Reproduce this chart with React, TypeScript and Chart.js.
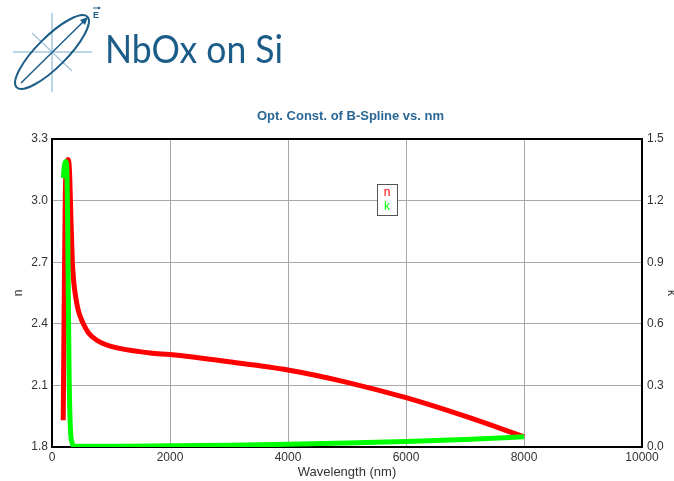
import React, { useEffect, useRef } from "react";
import { Chart, registerables } from "chart.js";

Chart.register(...registerables);

// Optical constants of the NbOx B-Spline model
const nWavelengths = [190, 205, 225, 250, 277, 300, 320, 345, 370, 402, 450, 531, 620, 759, 1000, 1663, 2000, 3000, 4000, 5000, 6000, 7000, 8000];
const nValues = [1.93, 2.45, 3.02, 3.17, 3.2, 3.12, 2.92, 2.7, 2.6, 2.53, 2.46, 2.4, 2.355, 2.32, 2.29, 2.258, 2.25, 2.215, 2.175, 2.115, 2.04, 1.95, 1.85];

const kWavelengths = [192, 210, 232, 250, 265, 277, 290, 310, 340, 370, 1000, 2000, 3000, 4000, 5000, 6000, 7000, 8000];
const kValues = [1.31, 1.37, 1.39, 1.36, 1.1, 0.73, 0.35, 0.1, 0.02, 0.005, 0.004, 0.006, 0.009, 0.013, 0.019, 0.027, 0.037, 0.05];

const xTickStep = 2000;
const nAxisRange = [1.8, 3.3];
const kAxisRange = [0, 1.5];
const axisStep = 0.3;

const chartTitle = "Opt. Const. of B-Spline vs. nm";
const legendItems = [
  { label: "n", color: "#ff0000" },
  { label: "k", color: "#00ff00" },
];

const fontFamily = "'Liberation Sans', Arial, sans-serif";
const tickFont = { family: fontFamily, size: 12 };
const axisTitleFont = { family: fontFamily, size: 13 };
const tickColor = "#333333";
const gridColor = "#a8a8a8";

// Frame around the plot, chart title and the small in-plot legend box
const decorPlugin = {
  id: "decor",
  beforeDatasetsDraw(chart: any) {
    const { ctx, chartArea } = chart;
    ctx.save();
    ctx.strokeStyle = "#000000";
    ctx.lineWidth = 2;
    ctx.strokeRect(chartArea.left, chartArea.top, chartArea.right - chartArea.left, chartArea.bottom - chartArea.top);
    ctx.restore();
  },
  afterDraw(chart: any) {
    const { ctx, chartArea } = chart;
    ctx.save();
    // title
    ctx.font = `bold 13px ${fontFamily}`;
    ctx.fillStyle = "#2a6794";
    ctx.textAlign = "center";
    ctx.textBaseline = "middle";
    ctx.fillText(chartTitle, (chartArea.left + chartArea.right) / 2 + 3.5, 116);

    // legend box
    const bx = 377;
    const by = 184;
    const bw = 20;
    const bh = 31;
    ctx.fillStyle = "#ffffff";
    ctx.fillRect(bx, by, bw, bh);
    ctx.strokeStyle = "#555555";
    ctx.lineWidth = 1;
    ctx.strokeRect(bx + 0.5, by + 0.5, bw, bh);
    ctx.font = `12px ${fontFamily}`;
    legendItems.forEach((item, i) => {
      ctx.fillStyle = item.color;
      ctx.fillText(item.label, bx + bw / 2, by + 9 + i * 14);
    });
    ctx.restore();
  },
};

function Logo() {
  const blue = "#1b5d88";
  const light = "#a9c7dc";
  return (
    <svg width={300} height={100} style={{ position: "absolute", left: 0, top: 0, zIndex: 2 }}>
      <line x1={13} y1={52} x2={92} y2={52} stroke={light} strokeWidth={1.5} />
      <line x1={52} y1={13} x2={52} y2={92} stroke={light} strokeWidth={1.5} />
      <line x1={32} y1={33} x2={72} y2={71} stroke={light} strokeWidth={1.5} />
      <ellipse cx={52} cy={52} rx={50} ry={15} transform="rotate(-45 52 52)" fill="none" stroke={blue} strokeWidth={2} />
      <line x1={21} y1={83} x2={84} y2={21} stroke={blue} strokeWidth={1.5} />
      <polygon points="88,17 80,20 85,25" fill={blue} />
      <line x1={93} y1={8} x2={100} y2={8} stroke={blue} strokeWidth={1} />
      <polygon points="101,8 98,6.5 98,9.5" fill={blue} />
      <text x={93} y={18} fontFamily={fontFamily} fontSize={9} fontWeight="bold" fill={blue}>
        E
      </text>
      <text
        x={105}
        y={63}
        fontFamily="Lato, 'Open Sans', sans-serif"
        fontSize={39}
        fill={blue}
        textLength={178}
        lengthAdjust="spacingAndGlyphs"
      >
        NbOx on Si
      </text>
    </svg>
  );
}

export default function App() {
  const canvasRef = useRef<HTMLCanvasElement | null>(null);

  useEffect(() => {
    if (!canvasRef.current) return;
    const chart = new Chart(canvasRef.current, {
      type: "line",
      data: {
        datasets: [
          {
            label: "n",
            data: nWavelengths.map((x, i) => ({ x, y: nValues[i] })),
            yAxisID: "y",
            borderColor: "#ff0000",
            backgroundColor: "#ff0000",
            borderWidth: 5,
            pointRadius: 0,
            fill: false,
            cubicInterpolationMode: "monotone",
            order: 2,
          },
          {
            label: "k",
            data: kWavelengths.map((x, i) => ({ x, y: kValues[i] })),
            yAxisID: "y1",
            borderColor: "#00ff00",
            backgroundColor: "#00ff00",
            borderWidth: 5,
            pointRadius: 0,
            fill: false,
            cubicInterpolationMode: "monotone",
            order: 1,
          },
        ],
      },
      options: {
        responsive: false,
        animation: false,
        layout: { padding: { top: 139, left: 0, right: 0, bottom: 0 } },
        plugins: {
          legend: { display: false },
          tooltip: { enabled: false },
          title: { display: false },
        },
        scales: {
          x: {
            type: "linear",
            min: 0,
            max: 10000,
            ticks: {
              stepSize: xTickStep,
              font: tickFont,
              color: tickColor,
              padding: 3,
              maxRotation: 0,
              callback: (v: any) => String(Math.round(Number(v))),
            },
            grid: { color: gridColor, drawTicks: false },
            border: { display: false },
            title: { display: true, text: "Wavelength (nm)", font: { ...axisTitleFont, lineHeight: 1 }, color: tickColor, padding: { top: 0, bottom: 2 } },
            afterFit: (s: any) => {
              s.height = 34;
            },
          },
          y: {
            position: "left",
            min: nAxisRange[0],
            max: nAxisRange[1],
            ticks: {
              stepSize: axisStep,
              font: tickFont,
              color: tickColor,
              padding: 4,
              callback: (v: any) => Number(v).toFixed(1),
            },
            grid: { color: gridColor, drawTicks: false },
            border: { display: false },
            title: { display: true, text: "n", font: { ...tickFont, lineHeight: 1 }, color: tickColor, padding: { top: 13, bottom: 0 } },
            afterFit: (s: any) => {
              s.width = 52;
            },
          },
          y1: {
            position: "right",
            min: kAxisRange[0],
            max: kAxisRange[1],
            ticks: {
              stepSize: axisStep,
              font: tickFont,
              color: tickColor,
              padding: 5,
              callback: (v: any) => Number(v).toFixed(1),
            },
            grid: { display: false, drawTicks: false },
            border: { display: false },
            title: { display: true, text: "k", font: { ...tickFont, lineHeight: 1 }, color: tickColor, padding: { top: -3, bottom: 0 } },
            afterFit: (s: any) => {
              s.width = 32;
            },
          },
        },
      },
      plugins: [decorPlugin],
    } as any);
    return () => chart.destroy();
  }, []);

  return (
    <div style={{ position: "absolute", left: 0, top: 0, width: 674, height: 481, background: "#ffffff" }}>
      <Logo />
      <canvas ref={canvasRef} width={674} height={481} style={{ position: "absolute", left: 0, top: 0, width: 674, height: 481 }} />
    </div>
  );
}
